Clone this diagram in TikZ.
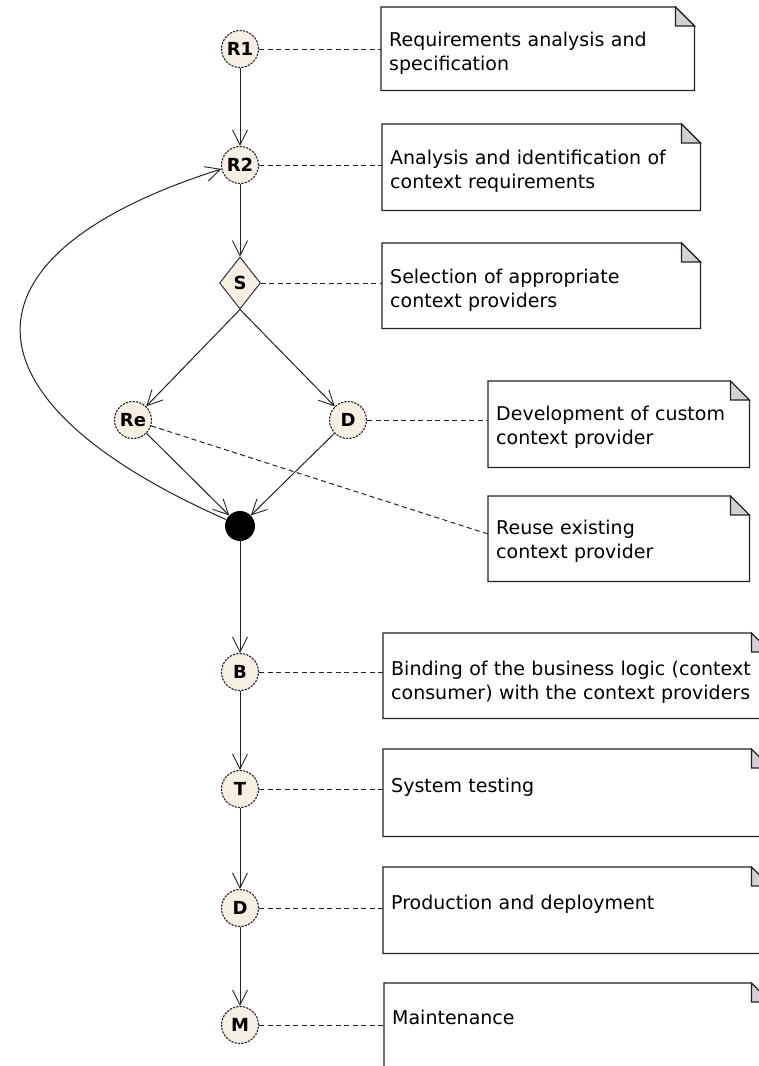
\documentclass[tikz,border=0pt]{standalone}
\usepackage{fontspec}
\setmainfont{DejaVu Sans}
\usetikzlibrary{arrows.meta,shapes.geometric}
\definecolor{nodefill}{RGB}{246,239,226}
\definecolor{linecol}{RGB}{35,35,35}
\definecolor{foldcol}{RGB}{212,208,214}
\tikzset{
  stage/.style={circle, draw=linecol, dash pattern=on 2.2pt off 1.2pt, line width=1.1pt, fill=nodefill,
    minimum size=37pt, inner sep=0pt, font=\fontsize{18}{18}\selectfont\bfseries},
  choice/.style={diamond, draw=linecol, line width=0.9pt, fill=nodefill,
    minimum width=41pt, minimum height=52pt, inner sep=0pt, font=\fontsize{18}{18}\selectfont\bfseries},
  joinpt/.style={circle, fill=black, minimum size=30pt, inner sep=0pt},
  edge/.style={draw=linecol, line width=1pt, -{Straight Barb[length=15pt,width=15pt,line width=0.9pt]}},
  noteline/.style={draw=linecol, line width=1pt, dash pattern=on 5pt off 3.5pt},
  notebg/.style={rectangle, draw=none, inner sep=0pt},
  notetext/.style={inner sep=0pt, text width=400pt, font=\fontsize{19}{23.5}\selectfont},
}
\newcommand\mknote[7]{%
  \node[notebg, minimum width=#4-#2, minimum height=#5-#3, anchor=north west] (#1) at (#2,#3) {};
  \filldraw[draw=linecol, line width=1.2pt, fill=white]
    (#1.north west) -- ([xshift=-19pt]#1.north east) -- ([yshift=-19pt]#1.north east)
    -- (#1.south east) -- (#1.south west) -- cycle;
  \filldraw[draw=linecol, line width=1.2pt, fill=foldcol]
    ([xshift=-19pt]#1.north east) -- ([xshift=-19pt,yshift=-19pt]#1.north east)
    -- ([yshift=-19pt]#1.north east) -- cycle;
  \node[notetext, anchor=north west] (#1txt) at ([xshift=8pt,yshift=-#6pt+14pt]#1.north west) {#7};
}
\begin{document}
\begin{tikzpicture}[x=1pt,y=-1pt]
\useasboundingbox (0,0) rectangle (759,1066);
\fill[white] (0,0) rectangle (759,1066);
\clip (0,0) rectangle (759,1066);

% notes
\mknote{n1}{381}{7}{694}{90}{39}{Requirements analysis and\\specification}
\mknote{n2}{382}{124}{700}{210}{40}{Analysis and identification of\\context requirements}
\mknote{n3}{382}{243}{700}{328}{40}{Selection of appropriate\\context providers}
\mknote{nd}{488}{381}{749}{467}{39}{Development of custom\\context provider}
\mknote{nre}{488}{496}{749}{581}{38}{Reuse existing\\context provider}
\mknote{nb}{383}{633}{770}{718}{42}{Binding of the business logic (context\\consumer) with the context providers}
\mknote{nt}{383}{749}{770}{836}{43}{System testing}
\mknote{np}{383}{867}{770}{953}{42}{Production and deployment}
\mknote{nm}{384}{983}{770}{1100}{41}{Maintenance}

% nodes
\node[stage] (r1) at (240,49) {R1};
\node[stage] (r2) at (240,165) {R2};
\node[choice] (s) at (240,283) {S};
\node[stage] (re) at (133,420) {Re};
\node[stage] (dd) at (348,420) {D};
\node[joinpt] (j) at (240,526) {};
\node[stage] (b) at (240,672) {B};
\node[stage] (t) at (240,789) {T};
\node[stage] (dp) at (240,908) {D};
\node[stage] (m) at (240,1025) {M};

% note connectors
\draw[noteline] (r1.east) -- (n1.west |- r1);
\draw[noteline] (r2.east) -- (n2.west |- r2);
\draw[noteline] (s.east) -- (n3.west |- s);
\draw[noteline] (dd.east) -- (nd.west |- dd);
\coordinate (reend) at ([yshift=-38pt]nre.north west);
\draw[noteline] (re) -- (reend);
\draw[noteline] (b.east) -- (nb.west |- b);
\draw[noteline] (t.east) -- (nt.west |- t);
\draw[noteline] (dp.east) -- (np.west |- dp);
\draw[noteline] (m.east) -- (nm.west |- m);

% flow
\draw[edge] (r1) -- (r2);
\draw[edge] (r2) -- (s);
\draw[edge] (s.south) -- (re);
\draw[edge] (s.south) -- (dd);
\draw[edge] (re) -- (j);
\draw[edge] (dd) -- (j);
\draw[edge] (j) -- (b);
\draw[edge] (b) -- (t);
\draw[edge] (t) -- (dp);
\draw[edge] (dp) -- (m);
\draw[edge] (j.155) .. controls (-45,400) and (-50,255) .. (r2.192);
\end{tikzpicture}
\end{document}
